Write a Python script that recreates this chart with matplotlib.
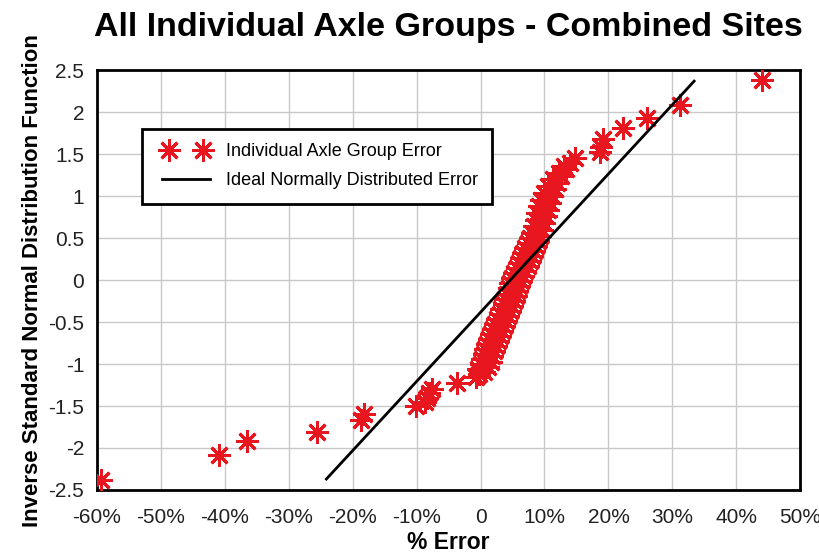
import numpy as np
import matplotlib
matplotlib.use('Agg')
import matplotlib.pyplot as plt
from matplotlib.ticker import FuncFormatter, MultipleLocator
from matplotlib.legend_handler import HandlerLine2D

plt.rcParams['font.family'] = ['Liberation Sans', 'DejaVu Sans']

# % error of each axle group (x) and its inverse standard normal value (y)
err_low = [-59.4, -40.9, -36.5, -25.5, -18.7, -18.2, -10.1, -8.7, -8.3, -8.0, -7.6, -3.6, -0.7, -0.2]
inv_low = [-2.38, -2.08, -1.92, -1.81, -1.67, -1.60, -1.50, -1.45, -1.40, -1.35, -1.30, -1.22, -1.16, -1.12]

err_mid = [0.6, -0.4, 1.2, 0.0, 1.6, 0.2, 1.8, 0.6, 2.1, 0.7, 2.4, 1.0, 2.7, 1.3, 3.0, 1.7,
           3.3, 2.0, 3.7, 2.3, 4.0, 2.6, 4.3, 3.0, 4.6, 3.2, 4.9, 3.6, 5.2, 3.8, 5.5, 4.1,
           5.7, 4.4, 6.0, 4.6, 6.3, 5.0, 6.6, 5.3, 7.0, 5.7, 7.4, 6.0, 7.7, 6.4, 8.1, 6.7,
           8.4, 7.0, 8.7, 7.4, 9.0, 7.7, 9.3, 8.0, 9.6, 8.3, 9.9, 8.6, 10.2, 8.9, 10.5, 9.2,
           10.8, 9.5, 11.1, 10.0, 11.6, 10.6, 12.0, 11.3, 12.6, 12.2, 13.3, 13.0, 14.0, 14.8]
inv_mid = [-1.09, -1.06, -1.03, -1.00, -0.97, -0.94, -0.91, -0.88, -0.85, -0.82, -0.79, -0.76,
           -0.73, -0.70, -0.67, -0.64, -0.61, -0.58, -0.55, -0.52, -0.49, -0.46, -0.43, -0.40,
           -0.37, -0.34, -0.31, -0.28, -0.25, -0.22, -0.19, -0.16, -0.13, -0.10, -0.07, -0.04,
           -0.01, 0.02, 0.05, 0.08, 0.11, 0.14, 0.17, 0.20, 0.23, 0.26, 0.29, 0.32,
           0.35, 0.38, 0.41, 0.44, 0.47, 0.50, 0.53, 0.56, 0.60, 0.64, 0.68, 0.72,
           0.76, 0.80, 0.84, 0.88, 0.92, 0.96, 1.00, 1.04, 1.08, 1.12, 1.16, 1.20,
           1.24, 1.28, 1.32, 1.36, 1.40, 1.45]

err_high = [18.7, 18.9, 19.2, 22.3, 26.0, 31.2, 44.0]
inv_high = [1.52, 1.59, 1.68, 1.81, 1.93, 2.08, 2.38]

# ideal normal line end points
ideal_err = [-24.1, 33.4]
ideal_inv = [-2.37, 2.37]


def plot_chart():
    """."""
    x = np.array(err_low + err_mid + err_high)
    y = np.array(inv_low + inv_mid + inv_high)

    fig = plt.figure(figsize=(8.2, 5.53), dpi=100)
    ax = fig.add_axes([0.118, 0.114, 0.858, 0.759])

    pts, = ax.plot(x, y, linestyle='none', marker=(8, 2, 0), markersize=16,
                   markeredgewidth=2.1, color='#e8161e',
                   label='Individual Axle Group Error', zorder=3)
    ax.plot(ideal_err, ideal_inv, color='black', linewidth=2,
            label='Ideal Normally Distributed Error', zorder=4)

    ax.set_xlim(-60, 50)
    ax.set_ylim(-2.5, 2.5)
    ax.xaxis.set_major_locator(MultipleLocator(10))
    ax.yaxis.set_major_locator(MultipleLocator(0.5))
    ax.xaxis.set_major_formatter(FuncFormatter(
        lambda v, p: '0' if abs(v) < 1e-9 else f'{v:.0f}%'))
    ax.yaxis.set_major_formatter(FuncFormatter(
        lambda v, p: '0' if abs(v) < 1e-9 else f'{v:g}'))
    ax.tick_params(length=0, labelsize=15, colors='#222222')
    ax.tick_params(axis='x', pad=13)
    ax.tick_params(axis='y', pad=9)
    ax.grid(True, color='#c8c8c8', linewidth=1)
    ax.set_axisbelow(True)
    for sp in ax.spines.values():
        sp.set_linewidth(2)
        sp.set_color('black')

    ax.set_xlabel('% Error', fontsize=16.5, fontweight='bold', labelpad=3)
    ax.set_ylabel('Inverse Standard Normal Distribution Function',
                  fontsize=16, fontweight='bold', labelpad=4)
    fig.suptitle('All Individual Axle Groups - Combined Sites',
                 fontsize=24.5, fontweight='bold', x=0.547, y=0.978)

    leg = ax.legend(loc='upper left', bbox_to_anchor=(0.064, 0.86),
                    borderaxespad=0, numpoints=2, fontsize=13,
                    fancybox=False, framealpha=1, borderpad=0.8,
                    handlelength=3.3, handletextpad=0.55, labelspacing=0.65,
                    handler_map={pts: HandlerLine2D(marker_pad=0.7)})
    leg.get_frame().set_edgecolor('black')
    leg.get_frame().set_linewidth(2)

    fig.savefig('out.png', dpi=100)


if __name__ == '__main__':
    plot_chart()
